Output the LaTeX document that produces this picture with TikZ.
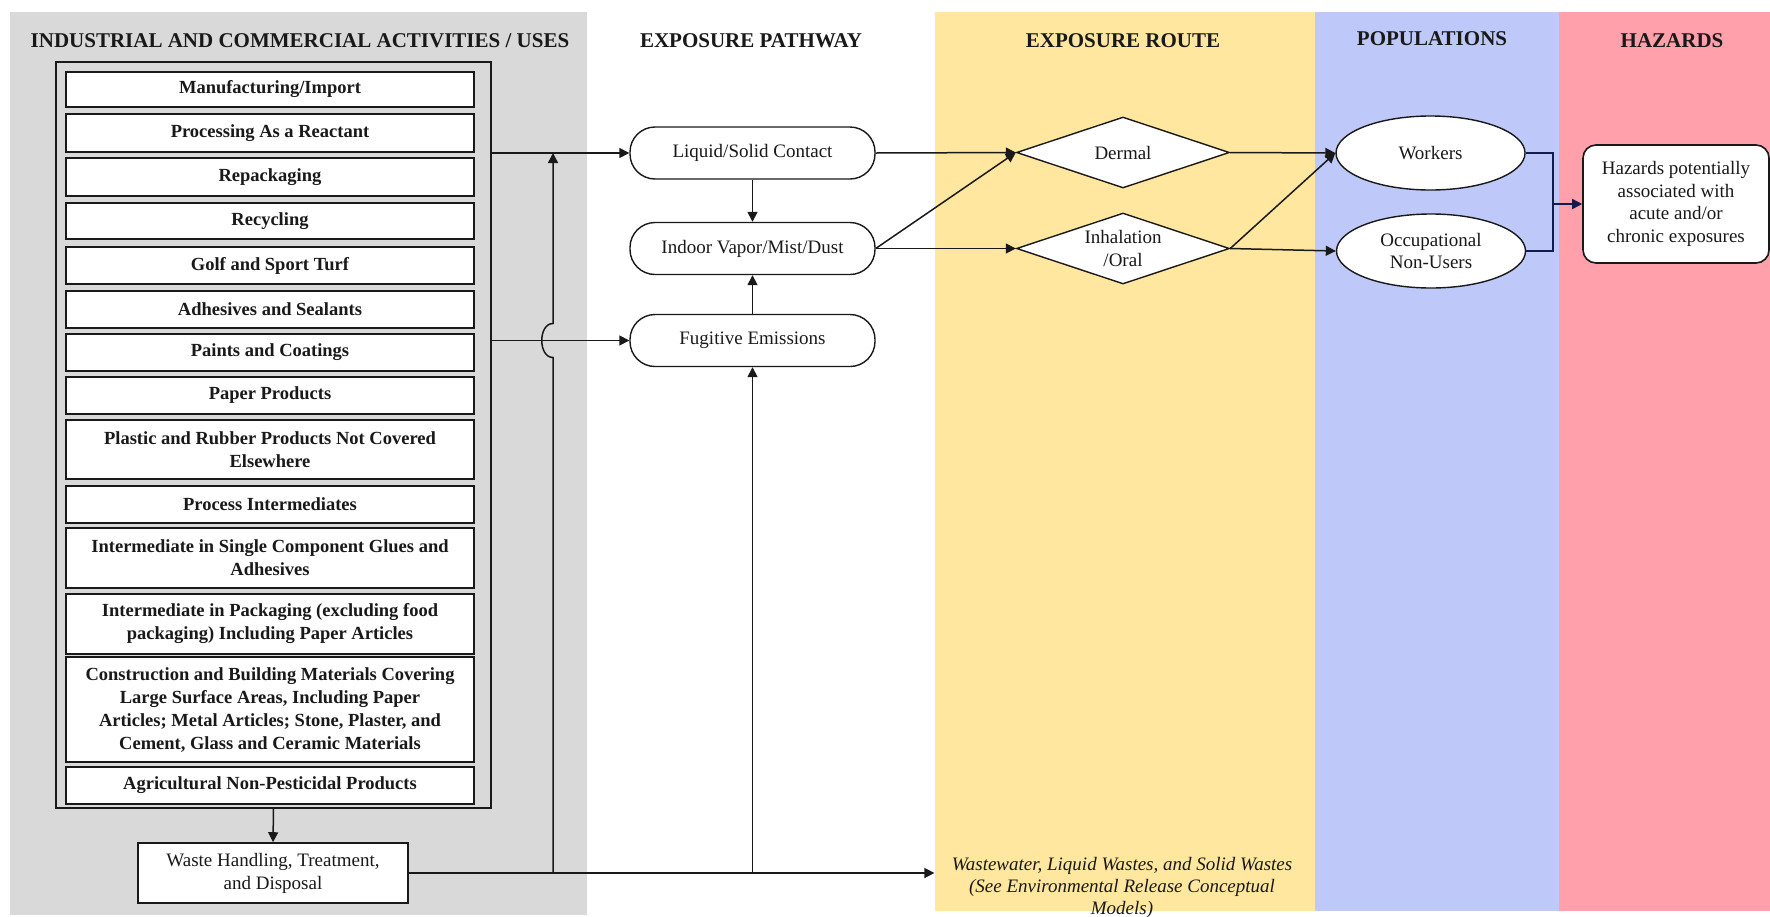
\documentclass[tikz,border=0pt]{standalone}
\usepackage{fontspec}
\setmainfont{Liberation Serif}
\usetikzlibrary{shapes.geometric,arrows.meta}

\definecolor{bandgray}{RGB}{217,217,217}
\definecolor{bandyellow}{RGB}{255,231,160}
\definecolor{bandblue}{RGB}{190,200,249}
\definecolor{bandpink}{RGB}{255,160,170}
\definecolor{ink}{RGB}{25,25,25}
\definecolor{navy}{RGB}{20,28,75}

\begin{document}
\begin{tikzpicture}[x=0.5pt,y=-0.5pt,
  every node/.style={text=ink},
  header/.style={font=\fontsize{10.5pt}{12pt}\selectfont\bfseries, inner sep=0pt},
  usebox/.style={draw=ink, line width=1pt, fill=white, minimum width=204pt,
    inner sep=0pt, align=center, font=\fontsize{9.25pt}{11.5pt}\selectfont\bfseries},
  plain/.style={font=\fontsize{9.5pt}{11.5pt}\selectfont},
  pathway/.style={plain, draw=ink, line width=0.7pt, fill=white, rounded corners=12.5pt,
    minimum width=122.5pt, minimum height=26pt, inner sep=0pt},
  route/.style={plain, diamond, aspect=3, draw=ink, line width=0.7pt, fill=white,
    minimum width=106.5pt, minimum height=35.5pt, inner sep=0pt, align=center},
  popul/.style={plain, ellipse, draw=ink, line width=0.7pt, fill=white,
    minimum width=94.5pt, minimum height=37pt, inner sep=0pt, align=center},
  conn/.style={draw=ink, line width=0.75pt},
  arr/.style={conn, -{Triangle[length=5pt,width=5pt]}},
]
\useasboundingbox (0,0) rectangle (1770,916);
\fill[white] (0,0) rectangle (1770,916);

% column bands
\fill[bandgray]   (10,12)   rectangle (587,915);
\fill[bandyellow] (935,12)  rectangle (1315,911);
\fill[bandblue]   (1315,12) rectangle (1559,911);
\fill[bandpink]   (1559,12) rectangle (1770,911);

% column headings
\node[header] (h1) at (300,41)  {INDUSTRIAL AND COMMERCIAL ACTIVITIES / USES};
\node[header] (h2) at (751,41)  {EXPOSURE PATHWAY};
\node[header] (h3) at (1123,41) {EXPOSURE ROUTE};
\node[header] (h4) at (1432,39) {POPULATIONS};
\node[header] (h5) at (1672,41) {HAZARDS};

% activities / uses
\node[draw=ink, line width=0.9pt, minimum width=217.5pt, minimum height=373pt, inner sep=0pt] (outer) at (273.5,435) {};
\node[usebox, minimum height=17.5pt] (u1)  at (270,89.5)  {Manufacturing/Import};
\node[usebox, minimum height=19pt]   (u2)  at (270,133)   {Processing As a Reactant};
\node[usebox, minimum height=19pt]   (u3)  at (270,177)   {Repackaging};
\node[usebox, minimum height=18pt]   (u4)  at (270,221)   {Recycling};
\node[usebox, minimum height=18.5pt] (u5)  at (270,265.5) {Golf and Sport Turf};
\node[usebox, minimum height=18.5pt] (u6)  at (270,309.5) {Adhesives and Sealants};
\node[usebox, minimum height=18.5pt] (u7)  at (270,352.5) {Paints and Coatings};
\node[usebox, minimum height=18.5pt] (u8)  at (270,395.5) {Paper Products};
\node[usebox, minimum height=29.5pt] (u9)  at (270,449.5) {Plastic and Rubber Products Not Covered\\Elsewhere};
\node[usebox, minimum height=18.5pt] (u10) at (270,504.5) {Process Intermediates};
\node[usebox, minimum height=30pt]   (u11) at (270,558)   {Intermediate in Single Component Glues and\\Adhesives};
\node[usebox, minimum height=30pt]   (u12) at (270,624)   {Intermediate in Packaging (excluding food\\packaging) Including Paper Articles};
\node[usebox, minimum height=52.5pt] (u13) at (270,709.5) {Construction and Building Materials Covering\\Large Surface Areas, Including Paper\\Articles; Metal Articles; Stone, Plaster, and\\Cement, Glass and Ceramic Materials};
\node[usebox, minimum height=18.5pt] (u14) at (270,785.5) {Agricultural Non-Pesticidal Products};

\node[plain, draw=ink, line width=0.8pt, fill=white, minimum width=135pt, minimum height=30pt,
  inner sep=0pt, align=center] (waste) at (273,873) {Waste Handling, Treatment,\\and Disposal};

% exposure pathways
\node[pathway] (liq) at (752.5,153)   {Liquid/Solid Contact};
\node[pathway] (ind) at (752.5,248.5) {Indoor Vapor/Mist/Dust};
\node[pathway] (fug) at (752.5,340.5) {Fugitive Emissions};

% exposure routes
\node[route] (der) at (1123,152.5) {Dermal};
\node[route] (inh) at (1123,248.5) {Inhalation\\/Oral};

% populations
\node[popul] (wrk) at (1430.5,153) {Workers};
\node[popul, font=\fontsize{9.5pt}{11pt}\selectfont] (occ) at (1431,251) {Occupational\\Non-Users};

% hazards
\node[plain, font=\fontsize{9.5pt}{11.2pt}\selectfont, draw=ink, line width=0.8pt, fill=white,
  rounded corners=6.5pt, minimum width=93pt, minimum height=59pt, inner sep=0pt, align=center]
  (haz) at (1676,204) {Hazards potentially\\associated with\\acute and/or\\chronic exposures};

% releases to the environment
\node[font=\fontsize{9.5pt}{11pt}\selectfont\itshape, align=center, inner xsep=8.5pt, inner ysep=0pt]
  (ww) at (1122,888) {Wastewater, Liquid Wastes, and Solid Wastes\\(See Environmental Release Conceptual\\Models)};

% connectors
\draw[arr] (outer.south) -- (waste.north);
\draw[arr] (outer.east |- liq.west) -- (liq.west);
\draw[arr] (outer.east |- fug.west) -- (fug.west);
\coordinate (j1) at (553,873);
\coordinate (j2) at (fug.south |- waste.east);
\coordinate (hop) at (j1 |- fug.west);
\draw[arr] (waste.east) -- (ww.west |- waste.east);
\draw[arr] (j1) -- ([yshift=-8.5pt]hop)
  .. controls ([xshift=-7.5pt,yshift=-8.5pt]hop) and ([xshift=-7.5pt,yshift=8.5pt]hop) .. ([yshift=8.5pt]hop)
  -- (j1 |- liq.west);
\draw[arr] (j2) -- (fug.south);
\draw[arr] (liq.south) -- (ind.north);
\draw[arr] (fug.north) -- (ind.south);
\draw[arr] (liq.east) -- (der.west);
\draw[arr] (ind.east) -- (der.west);
\draw[arr] (ind.east) -- (inh.west);
\draw[arr] (der.east) -- (wrk.west);
\draw[arr] (inh.east) -- (wrk.west);
\draw[arr] (inh.east) -- (occ.west);
\coordinate (br) at (1553,204);
\draw[conn, draw=navy] (wrk.east) -| (br) |- (occ.east);
\draw[arr, draw=navy] (br) -- (haz.west);
\end{tikzpicture}
\end{document}
